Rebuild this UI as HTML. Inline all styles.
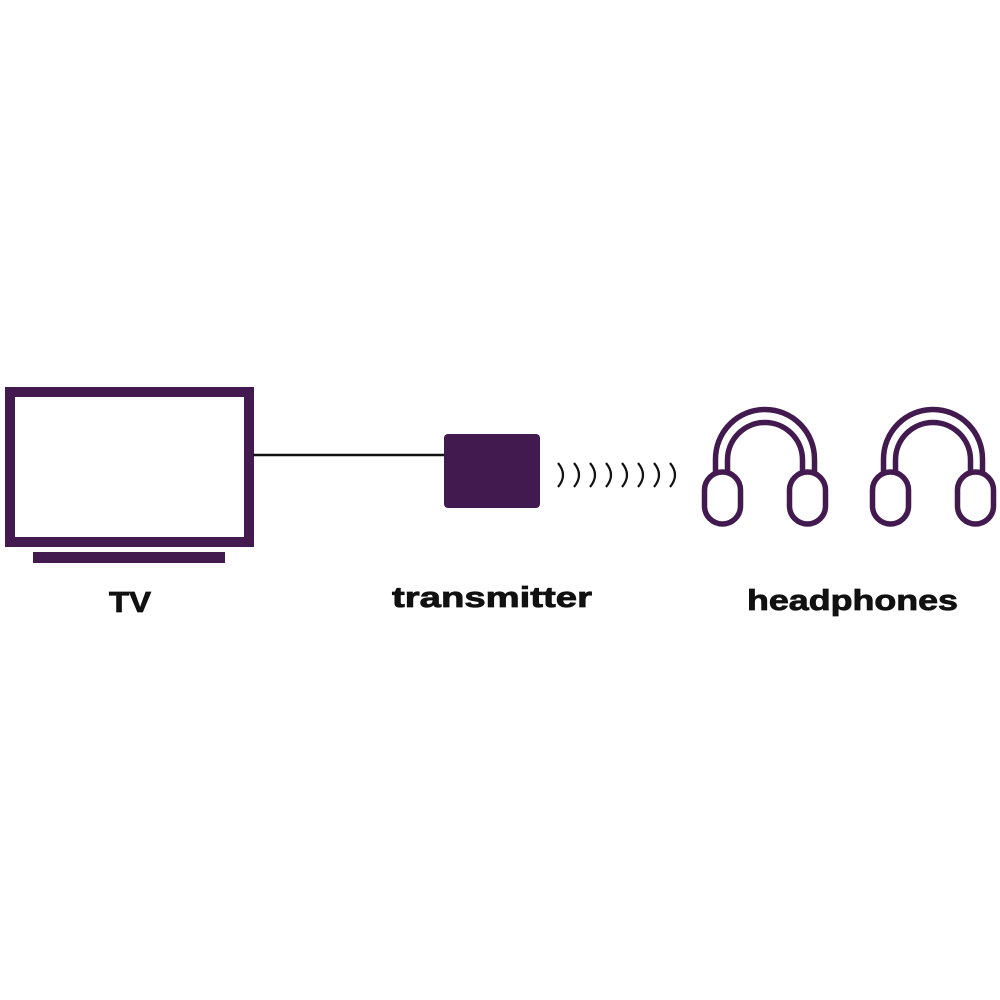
<!DOCTYPE html>
<html><head><meta charset="utf-8"><style>html,body{margin:0;padding:0;background:#fff}svg{display:block}</style></head>
<body>
<svg width="1000" height="1000" viewBox="0 0 1000 1000" xmlns="http://www.w3.org/2000/svg">
<rect width="1000" height="1000" fill="#fff"/>
<rect x="10" y="392" width="239" height="150" fill="none" stroke="#431a4f" stroke-width="10"/>
<rect x="33" y="552" width="192" height="11" fill="#431a4f"/>
<line x1="253" y1="455" x2="445" y2="455" stroke="#111" stroke-width="2.5"/>
<rect x="444" y="434" width="96" height="74" rx="4" fill="#431a4f"/>
<g fill="none" stroke="#111" stroke-width="2.2">
<path d="M558,463 Q568,475 558,487"/>
<path d="M574,463 Q584,475 574,487"/>
<path d="M590,463 Q600,475 590,487"/>
<path d="M606,463 Q616,475 606,487"/>
<path d="M622,463 Q632,475 622,487"/>
<path d="M638,463 Q648,475 638,487"/>
<path d="M654,463 Q664,475 654,487"/>
<path d="M670,463 Q680,475 670,487"/>
</g>
<g id="hp" fill="none" stroke="#431a4f" stroke-width="5.5">
<path d="M715.5,474 L715.5,459 A49.5,49.5 0 0 1 814.5,459 L814.5,474"/>
<path d="M727.5,474 L727.5,460 A37.5,37.5 0 0 1 802.5,460 L802.5,474"/>
<rect x="704.5" y="472" width="36" height="52" rx="18" fill="#fff"/>
<rect x="789.5" y="472" width="36" height="52" rx="18" fill="#fff"/>
</g>
<use href="#hp" transform="translate(168,0)"/>
<g font-family="Liberation Sans, sans-serif" font-weight="bold" fill="#111" stroke="#111" stroke-width="0.8" font-size="29">
<text x="109" y="612" textLength="42" lengthAdjust="spacingAndGlyphs">TV</text>
<text x="392" y="607" textLength="200" lengthAdjust="spacingAndGlyphs">transmitter</text>
<text x="747" y="610" textLength="211" lengthAdjust="spacingAndGlyphs">headphones</text>
</g>
</svg>
</body></html>
